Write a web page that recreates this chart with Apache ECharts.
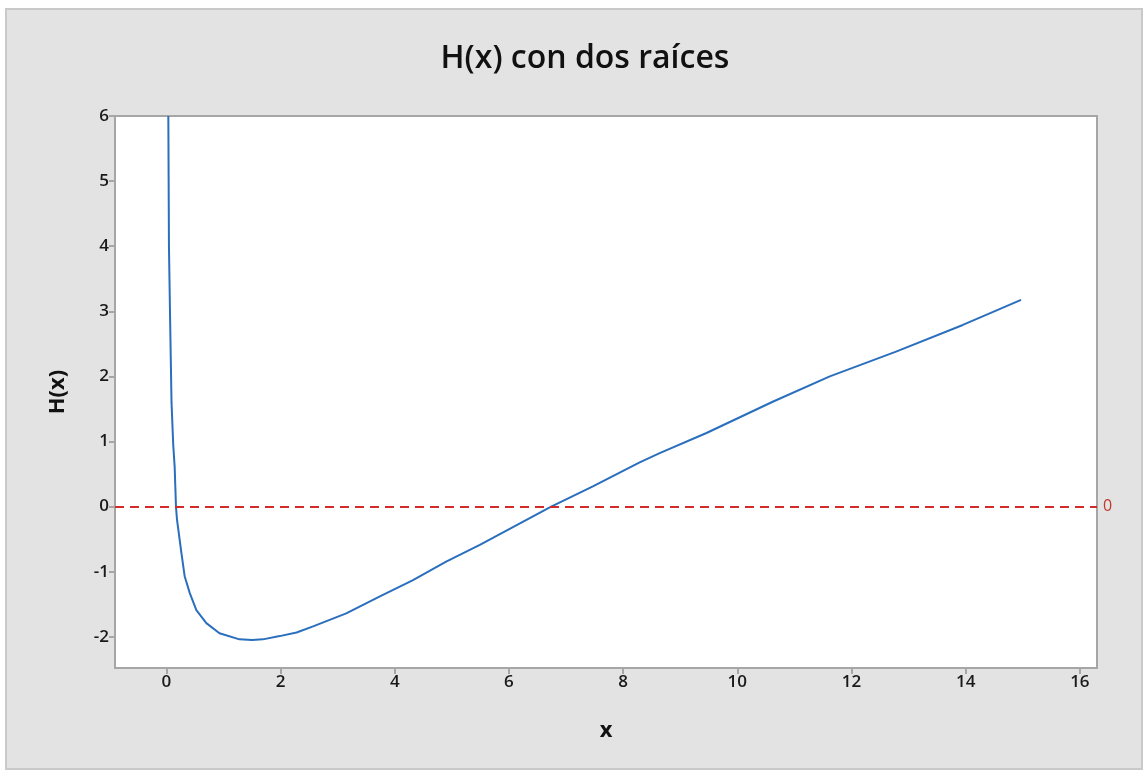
<!DOCTYPE html>
<html>
<head>
<meta charset="utf-8">
<script src="https://cdn.jsdelivr.net/npm/echarts@6/dist/echarts.min.js"></script>
<style>
html,body{margin:0;padding:0;background:#fff;}
#chart{width:1146px;height:773px;}
</style>
</head>
<body>
<div id="chart"></div>
<script>
// Values
const xValues = [0.034, 0.045, 0.063, 0.09, 0.12, 0.145, 0.168, 0.186, 0.263, 0.32, 0.41, 0.525, 0.70, 0.93, 1.28, 1.5, 1.69, 1.985, 2.28, 2.57, 3.15, 3.74, 4.32, 4.9, 5.49, 6.74, 7.47, 8.29, 8.64, 9.46, 10.62, 11.62, 12.78, 13.95, 14.97];
const hValues = [6.0, 4.0, 3.0, 1.6, 0.95, 0.61, 0.0, -0.2, -0.71, -1.07, -1.33, -1.59, -1.79, -1.945, -2.04, -2.05, -2.04, -1.99, -1.935, -1.84, -1.64, -1.38, -1.13, -0.845, -0.59, 0.0, 0.31, 0.68, 0.82, 1.13, 1.61, 2.0, 2.38, 2.79, 3.175];
const xTicks = [0, 2, 4, 6, 8, 10, 12, 14, 16];
const yTicks = [-2, -1, 0, 1, 2, 3, 4, 5, 6];
const refValue = 0;
const titleText = 'H(x) con dos raíces';
const xName = 'x';
const yName = 'H(x)';

const FONT = 'Open Sans';
const seriesData = xValues.map((x, i) => [x, hValues[i]]);

const chart = echarts.init(document.getElementById('chart'), null, {renderer: 'canvas'});
chart.setOption({
  backgroundColor: '#ffffff',
  animation: false,
  graphic: [{
    type: 'rect', z: -100, silent: true,
    shape: {x: 6, y: 9, width: 1136, height: 760},
    style: {fill: '#e3e3e3', stroke: '#c9c9c9', lineWidth: 2}
  }],
  title: {
    text: titleText,
    left: 580, top: 38, textAlign: 'center',
    textStyle: {fontFamily: FONT, fontSize: 32, fontWeight: 600, color: '#111'}
  },
  grid: {
    left: 115, top: 116, right: 49, bottom: 105,
    show: true, backgroundColor: '#ffffff', borderColor: '#a6a6a6', borderWidth: 2
  },
  xAxis: {
    type: 'value', min: -0.9, max: 16.3,
    name: xName, nameLocation: 'middle', nameGap: 52,
    nameTextStyle: {fontFamily: FONT, fontSize: 22, fontWeight: 'bold', color: '#111'},
    axisLine: {show: true, onZero: false, lineStyle: {color: '#a6a6a6', width: 2}},
    axisTick: {show: true, length: 6, lineStyle: {color: '#a6a6a6', width: 2}, customValues: xTicks},
    axisLabel: {customValues: xTicks, fontFamily: FONT, fontSize: 17, fontWeight: 600, color: '#1a1a1a', margin: 6},
    splitLine: {show: false}
  },
  yAxis: {
    type: 'value', min: -2.48, max: 6,
    name: yName, nameLocation: 'middle', nameGap: 46, nameRotate: 90,
    nameTextStyle: {fontFamily: FONT, fontSize: 22, fontWeight: 'bold', color: '#111'},
    axisLine: {show: true, onZero: false, lineStyle: {color: '#a6a6a6', width: 2}},
    axisTick: {show: true, length: 6, lineStyle: {color: '#a6a6a6', width: 2}, customValues: yTicks},
    axisLabel: {customValues: yTicks, fontFamily: FONT, fontSize: 17, fontWeight: 600, color: '#1a1a1a', margin: 6},
    splitLine: {show: false}
  },
  series: [{
    type: 'line',
    data: seriesData,
    showSymbol: false,
    smooth: false,
    clip: true,
    lineStyle: {color: '#2a6fbd', width: 2},
    markLine: {
      silent: true,
      symbol: ['none', 'none'],
      data: [{yAxis: refValue}],
      lineStyle: {color: '#d42a2a', type: [9, 6], width: 2},
      label: {show: true, position: 'end', formatter: String(refValue), color: '#c0392b', fontFamily: FONT, fontSize: 16, distance: 6}
    }
  }]
});
</script>
</body>
</html>
